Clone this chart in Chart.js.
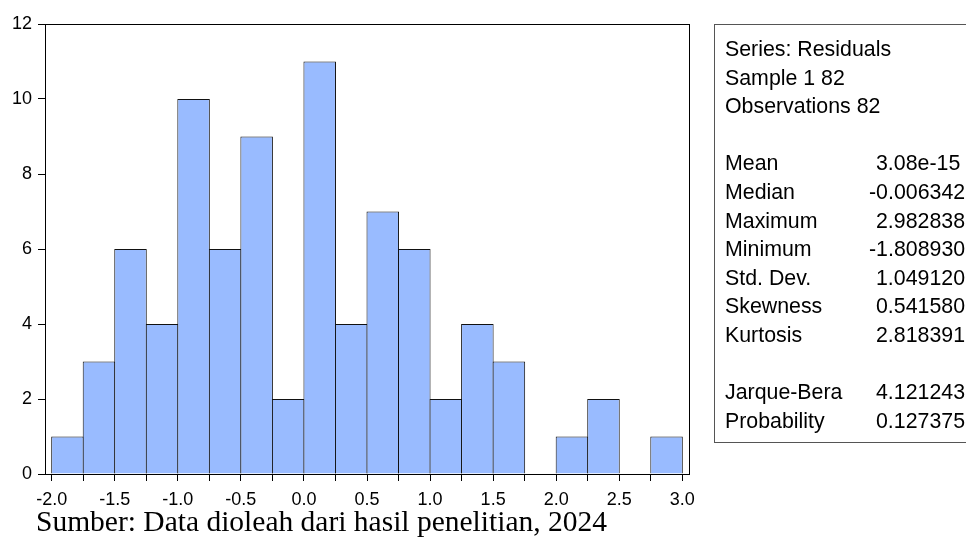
<!DOCTYPE html>
<html>
<head>
<meta charset="utf-8">
<script src="https://cdn.jsdelivr.net/npm/chart.js@4/dist/chart.umd.min.js"></script>
<style>
html,body{margin:0;padding:0;background:#fff;}
#wrap{position:relative;width:966px;height:540px;overflow:hidden;background:#fff;}
#c{position:absolute;left:0;top:0;}
#stats{position:absolute;left:714px;top:24px;width:320px;height:419px;border:1px solid #555;box-sizing:border-box;
  font-family:"Liberation Sans",Arial,sans-serif;font-size:22px;color:#000;padding-top:10px;}
.row{position:relative;height:28.6px;line-height:28.6px;white-space:nowrap;}
.lab{position:absolute;left:10px;top:0;transform:scaleX(0.97);transform-origin:left center;}
.val{position:absolute;left:161px;top:0;transform:scaleX(0.97);transform-origin:left center;}
#caption{position:absolute;left:36px;top:507px;font-family:"Liberation Serif","Times New Roman",serif;font-size:29.5px;line-height:29.5px;color:#000;white-space:nowrap;}
</style>
</head>
<body>
<div id="wrap">
  <canvas id="c" width="966" height="540"></canvas>
  <div id="stats"></div>
  <div id="caption"></div>
</div>
<script>
// ---- data ----
const binCenters = [-1.875,-1.625,-1.375,-1.125,-0.875,-0.625,-0.375,-0.125,0.125,0.375,
                    0.625,0.875,1.125,1.375,1.625,1.875,2.125,2.375,2.625,2.875];
const counts     = [1,3,6,4,10,6,9,2,11,4,7,6,2,4,3,0,1,2,0,1];
const xTickValues = [-2.0,-1.75,-1.5,-1.25,-1.0,-0.75,-0.5,-0.25,0.0,0.25,0.5,0.75,
                     1.0,1.25,1.5,1.75,2.0,2.25,2.5,2.75,3.0];
const xTickLabels = ['-2.0','','-1.5','','-1.0','','-0.5','','0.0','','0.5','',
                     '1.0','','1.5','','2.0','','2.5','','3.0'];
const yTickValues = [0,2,4,6,8,10,12];
const statHeader = ['Series: Residuals','Sample 1 82','Observations 82'];
const statLabels = ['Mean','Median','Maximum','Minimum','Std. Dev.','Skewness','Kurtosis'];
const statValues = ['3.08e-15','-0.006342','2.982838','-1.808930','1.049120','0.541580','2.818391'];
const testLabels = ['Jarque-Bera','Probability'];
const testValues = ['4.121243','0.127375'];
const captionText = 'Sumber: Data dioleah dari hasil penelitian, 2024';

// ---- stats box (real text) ----
const stats = document.getElementById('stats');
function addRow(label, value){
  const r = document.createElement('div'); r.className='row';
  if (label !== null){
    const l = document.createElement('span'); l.className='lab'; l.textContent = label; r.appendChild(l);
  }
  if (value !== null && value !== undefined){
    const v = document.createElement('span'); v.className='val'; v.textContent = value;
    if (value.charAt(0) === '-') v.style.left = '154px';
    r.appendChild(v);
  }
  stats.appendChild(r);
}
statHeader.forEach(h => addRow(h, null));
addRow(null, null);
statLabels.forEach((l,i) => addRow(l, statValues[i]));
addRow(null, null);
testLabels.forEach((l,i) => addRow(l, testValues[i]));
document.getElementById('caption').textContent = captionText;

// ---- chart ----
const FONT = '"Liberation Sans", Arial, sans-serif';
const framePlugin = {
  id: 'frame',
  afterDatasetsDraw(chart){
    const a = chart.chartArea, ctx = chart.ctx;
    ctx.save();
    ctx.strokeStyle = '#000';
    ctx.lineWidth = 1;
    ctx.strokeRect(Math.round(a.left)+0.5, Math.round(a.top)+0.5,
                   Math.round(a.right)-Math.round(a.left), Math.round(a.bottom)-Math.round(a.top));
    ctx.restore();
  }
};

new Chart(document.getElementById('c'), {
  type: 'bar',
  data: {
    datasets: [{
      data: binCenters.map((x,i) => ({x: x, y: counts[i]})),
      backgroundColor: '#99bbff',
      borderColor: '#111',
      borderWidth: 1,
      barPercentage: 1.032,
      categoryPercentage: 1.0
    }]
  },
  options: {
    responsive: false,
    animation: false,
    layout: { padding: { left: 0, top: 24, right: 277, bottom: 0 } },
    plugins: { legend: { display: false }, tooltip: { enabled: false } },
    scales: {
      x: {
        type: 'linear',
        offset: false,
        min: -2.053, max: 3.053,
        afterBuildTicks: s => { s.ticks = xTickValues.map(v => ({value: v})); },
        afterFit: s => { s.height = 66; },
        ticks: {
          autoSkip: false, maxRotation: 0, minRotation: 0,
          callback: (v, i) => xTickLabels[i],
          font: { family: FONT, size: 18 }, color: '#000', padding: 8
        },
        grid: { offset: false, drawOnChartArea: false, drawTicks: true, tickLength: 7, color: '#000', lineWidth: 1 },
        border: { display: true, color: '#000', width: 1 }
      },
      y: {
        min: 0, max: 12,
        afterBuildTicks: s => { s.ticks = yTickValues.map(v => ({value: v})); },
        afterFit: s => { s.width = 45; },
        ticks: { font: { family: FONT, size: 18 }, color: '#000', padding: 6 },
        grid: { drawOnChartArea: false, drawTicks: true, tickLength: 7, color: '#000', lineWidth: 1 },
        border: { display: true, color: '#000', width: 1 }
      }
    }
  },
  plugins: [framePlugin]
});
</script>
</body>
</html>
